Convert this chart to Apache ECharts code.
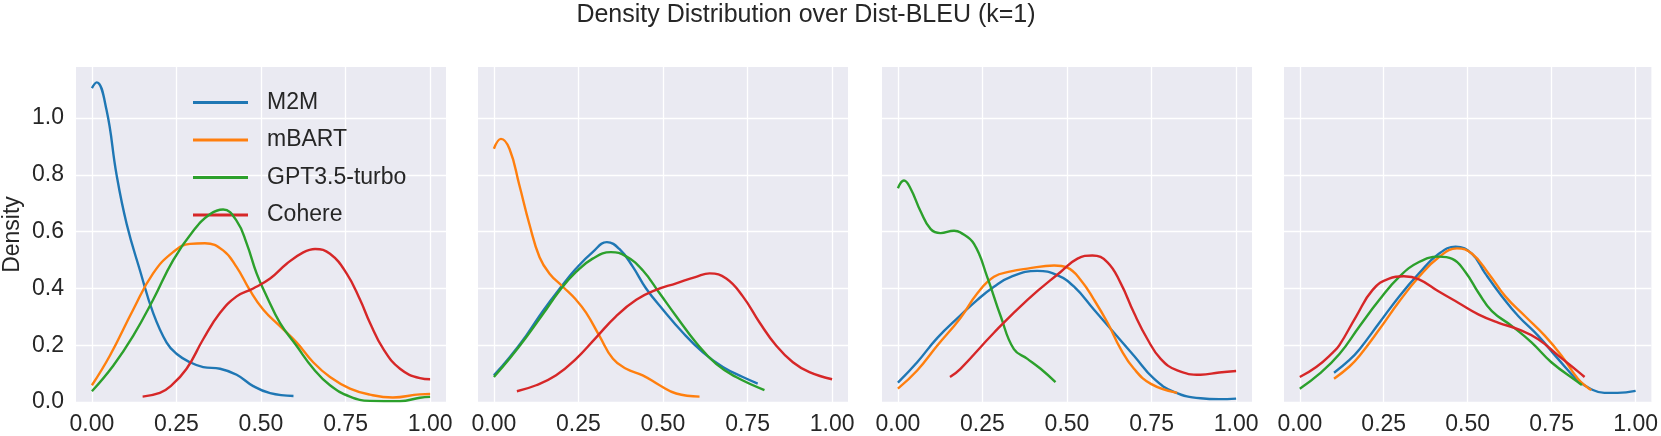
<!DOCTYPE html>
<html>
<head>
<meta charset="utf-8">
<script src="https://cdn.jsdelivr.net/npm/echarts@6/dist/echarts.min.js"></script>
<style>
html,body{margin:0;padding:0;background:#fff;}
#chart{width:1661px;height:436px;}
</style>
</head>
<body>
<div id="chart"></div>
<script>
// ---- data (x, density) ----
const seriesNames = ["M2M", "mBART", "GPT3.5-turbo", "Cohere"];
const xTicks = [0, 0.25, 0.5, 0.75, 1.0];
const yTicks = [0, 0.2, 0.4, 0.6, 0.8, 1.0];

// Panel 1
const p1_M2M = [[0,1.106],[0.014,1.126],[0.043,1.03],[0.073,0.80],[0.103,0.626],[0.142,0.464],[0.181,0.314],[0.221,0.209],[0.25,0.17],[0.29,0.14],[0.329,0.123],[0.379,0.117],[0.428,0.096],[0.477,0.056],[0.527,0.031],[0.596,0.021]];
const p1_mBART = [[0,0.059],[0.053,0.163],[0.122,0.325],[0.181,0.453],[0.24,0.528],[0.29,0.557],[0.334,0.559],[0.388,0.534],[0.428,0.475],[0.467,0.394],[0.507,0.325],[0.556,0.267],[0.605,0.21],[0.655,0.139],[0.704,0.088],[0.763,0.047],[0.822,0.026],[0.89,0.016],[0.97,0.027],[1.0,0.028]];
const p1_GPT = [[0,0.038],[0.063,0.128],[0.122,0.233],[0.181,0.36],[0.24,0.499],[0.3,0.603],[0.349,0.661],[0.388,0.678],[0.428,0.638],[0.458,0.557],[0.487,0.453],[0.517,0.372],[0.556,0.279],[0.605,0.198],[0.655,0.117],[0.704,0.059],[0.763,0.019],[0.822,0.004],[0.911,0.003],[0.97,0.015],[1.0,0.018]];
const p1_Cohere = [[0.15,0.019],[0.201,0.032],[0.231,0.054],[0.28,0.117],[0.329,0.221],[0.379,0.314],[0.428,0.372],[0.477,0.4],[0.527,0.435],[0.576,0.487],[0.625,0.527],[0.66,0.539],[0.704,0.522],[0.753,0.453],[0.793,0.36],[0.822,0.279],[0.862,0.186],[0.911,0.117],[0.97,0.084],[1.0,0.08]];

// Panel 2
const p2_M2M = [[0,0.094],[0.046,0.157],[0.095,0.233],[0.144,0.319],[0.199,0.406],[0.243,0.47],[0.292,0.528],[0.334,0.563],[0.371,0.539],[0.411,0.476],[0.45,0.4],[0.5,0.325],[0.559,0.244],[0.618,0.175],[0.677,0.123],[0.736,0.088],[0.78,0.065]];
const p2_mBART = [[0,0.892],[0.021,0.927],[0.046,0.892],[0.075,0.765],[0.105,0.626],[0.135,0.51],[0.164,0.453],[0.204,0.406],[0.243,0.36],[0.273,0.314],[0.312,0.233],[0.352,0.152],[0.391,0.117],[0.44,0.094],[0.49,0.059],[0.539,0.03],[0.608,0.019]];
const p2_GPT = [[0,0.088],[0.046,0.152],[0.095,0.227],[0.144,0.308],[0.199,0.4],[0.243,0.458],[0.292,0.505],[0.346,0.528],[0.391,0.513],[0.44,0.464],[0.49,0.383],[0.539,0.302],[0.598,0.209],[0.657,0.134],[0.716,0.088],[0.8,0.042]];
const p2_Cohere = [[0.068,0.038],[0.125,0.059],[0.184,0.094],[0.243,0.152],[0.302,0.227],[0.361,0.302],[0.421,0.36],[0.48,0.395],[0.539,0.418],[0.598,0.441],[0.638,0.453],[0.687,0.435],[0.736,0.372],[0.786,0.279],[0.835,0.198],[0.884,0.14],[0.933,0.105],[1.0,0.08]];

// Panel 3
const p3_M2M = [[0,0.068],[0.057,0.14],[0.116,0.225],[0.185,0.305],[0.235,0.36],[0.284,0.406],[0.334,0.441],[0.412,0.462],[0.471,0.447],[0.521,0.406],[0.58,0.325],[0.639,0.244],[0.698,0.163],[0.757,0.082],[0.816,0.036],[0.895,0.013],[0.95,0.01],[1.0,0.012]];
const p3_mBART = [[0,0.047],[0.057,0.111],[0.116,0.198],[0.185,0.296],[0.235,0.383],[0.284,0.441],[0.334,0.46],[0.383,0.47],[0.462,0.481],[0.501,0.473],[0.541,0.429],[0.58,0.36],[0.62,0.279],[0.659,0.186],[0.698,0.117],[0.748,0.064],[0.826,0.032]];
const p3_GPT = [[0,0.753],[0.018,0.78],[0.037,0.753],[0.067,0.672],[0.097,0.609],[0.126,0.595],[0.166,0.603],[0.185,0.597],[0.225,0.557],[0.264,0.441],[0.304,0.302],[0.343,0.186],[0.383,0.152],[0.422,0.117],[0.466,0.07]];
const p3_Cohere = [[0.154,0.088],[0.185,0.117],[0.284,0.244],[0.383,0.36],[0.481,0.458],[0.531,0.505],[0.575,0.516],[0.619,0.493],[0.659,0.418],[0.698,0.314],[0.738,0.221],[0.777,0.152],[0.826,0.111],[0.895,0.096],[0.95,0.104],[1.0,0.109]];

// Panel 4
const p4_M2M = [[0.102,0.103],[0.148,0.148],[0.178,0.186],[0.237,0.279],[0.296,0.372],[0.355,0.453],[0.414,0.522],[0.464,0.547],[0.513,0.522],[0.552,0.453],[0.602,0.372],[0.651,0.302],[0.71,0.233],[0.769,0.152],[0.828,0.076],[0.868,0.045],[0.907,0.032],[0.946,0.032],[1.0,0.039]];
const p4_mBART = [[0.102,0.082],[0.148,0.125],[0.178,0.163],[0.237,0.256],[0.296,0.354],[0.355,0.441],[0.414,0.51],[0.468,0.541],[0.513,0.522],[0.562,0.453],[0.612,0.372],[0.671,0.302],[0.73,0.233],[0.779,0.164],[0.828,0.082],[0.858,0.05],[0.868,0.042]];
const p4_GPT = [[0,0.047],[0.059,0.1],[0.118,0.169],[0.178,0.267],[0.237,0.36],[0.296,0.441],[0.355,0.493],[0.414,0.512],[0.454,0.504],[0.493,0.458],[0.533,0.383],[0.572,0.32],[0.631,0.268],[0.69,0.21],[0.749,0.14],[0.828,0.07],[0.84,0.06]];
const p4_Cohere = [[0,0.088],[0.049,0.123],[0.099,0.175],[0.118,0.2],[0.168,0.302],[0.217,0.395],[0.266,0.435],[0.31,0.443],[0.355,0.432],[0.414,0.389],[0.473,0.349],[0.533,0.308],[0.592,0.279],[0.651,0.256],[0.71,0.221],[0.769,0.164],[0.828,0.108],[0.848,0.088]];

const panels = [
  [p1_M2M, p1_mBART, p1_GPT, p1_Cohere],
  [p2_M2M, p2_mBART, p2_GPT, p2_Cohere],
  [p3_M2M, p3_mBART, p3_GPT, p3_Cohere],
  [p4_M2M, p4_mBART, p4_GPT, p4_Cohere]
];
const colors = ["#1f77b4", "#ff7f0e", "#2ca02c", "#d62728"];

// ---- layout ----
const gridLefts = [76, 478, 882, 1284];
const gridW = 370, gridTop = 67, gridH = 340;
const FONT = "Liberation Sans, Arial, sans-serif";
const textColor = "#262626";

const grids = [], xAxes = [], yAxes = [], series = [];
panels.forEach((p, i) => {
  grids.push({left: gridLefts[i], top: gridTop, width: gridW, height: gridH,
    show: true, backgroundColor: "#EAEAF2", borderWidth: 0});
  xAxes.push({type: "value", gridIndex: i, min: -0.047, max: 1.047,
    axisLine: {show: false}, axisTick: {show: false, customValues: xTicks},
    axisLabel: {customValues: xTicks, fontFamily: FONT, fontSize: 23, color: textColor, margin: 11,
      formatter: v => v.toFixed(2)},
    splitLine: {show: true, lineStyle: {color: "#ffffff", width: 1.3}}});
  yAxes.push({type: "value", gridIndex: i, min: 0, max: 1.18,
    name: i === 0 ? "Density" : "", nameLocation: "middle", nameGap: 52,
    nameTextStyle: {fontFamily: FONT, fontSize: 23, color: textColor},
    axisLine: {show: false}, axisTick: {show: false, customValues: yTicks},
    axisLabel: {show: i === 0, customValues: yTicks, fontFamily: FONT, fontSize: 23, color: textColor, margin: 12,
      formatter: v => v.toFixed(1)},
    splitLine: {show: true, lineStyle: {color: "#ffffff", width: 1.3}}});
  p.forEach((d, j) => {
    series.push({type: "line", name: seriesNames[j], xAxisIndex: i, yAxisIndex: i,
      data: d, smooth: 0.45, symbol: "none", showSymbol: false,
      lineStyle: {color: colors[j], width: 2.4}, itemStyle: {color: colors[j]},
      silent: true, animation: false, z: 2 + j});
  });
});

const chart = echarts.init(document.getElementById("chart"), null, {renderer: "canvas"});
chart.setOption({
  animation: false,
  title: {text: "Density Distribution over Dist-BLEU (k=1)", left: 801, top: -2, textAlign: "center",
    textStyle: {fontFamily: FONT, fontSize: 25, fontWeight: "normal", color: textColor}},
  legend: {data: seriesNames, orient: "vertical", left: 188, top: 86, itemWidth: 55, itemHeight: 3,
    icon: "rect", itemGap: 14.5,
    textStyle: {fontFamily: FONT, fontSize: 23, color: textColor, lineHeight: 23, padding: [0, 0, 0, 14]}},
  grid: grids, xAxis: xAxes, yAxis: yAxes, series: series
});
</script>
</body>
</html>
